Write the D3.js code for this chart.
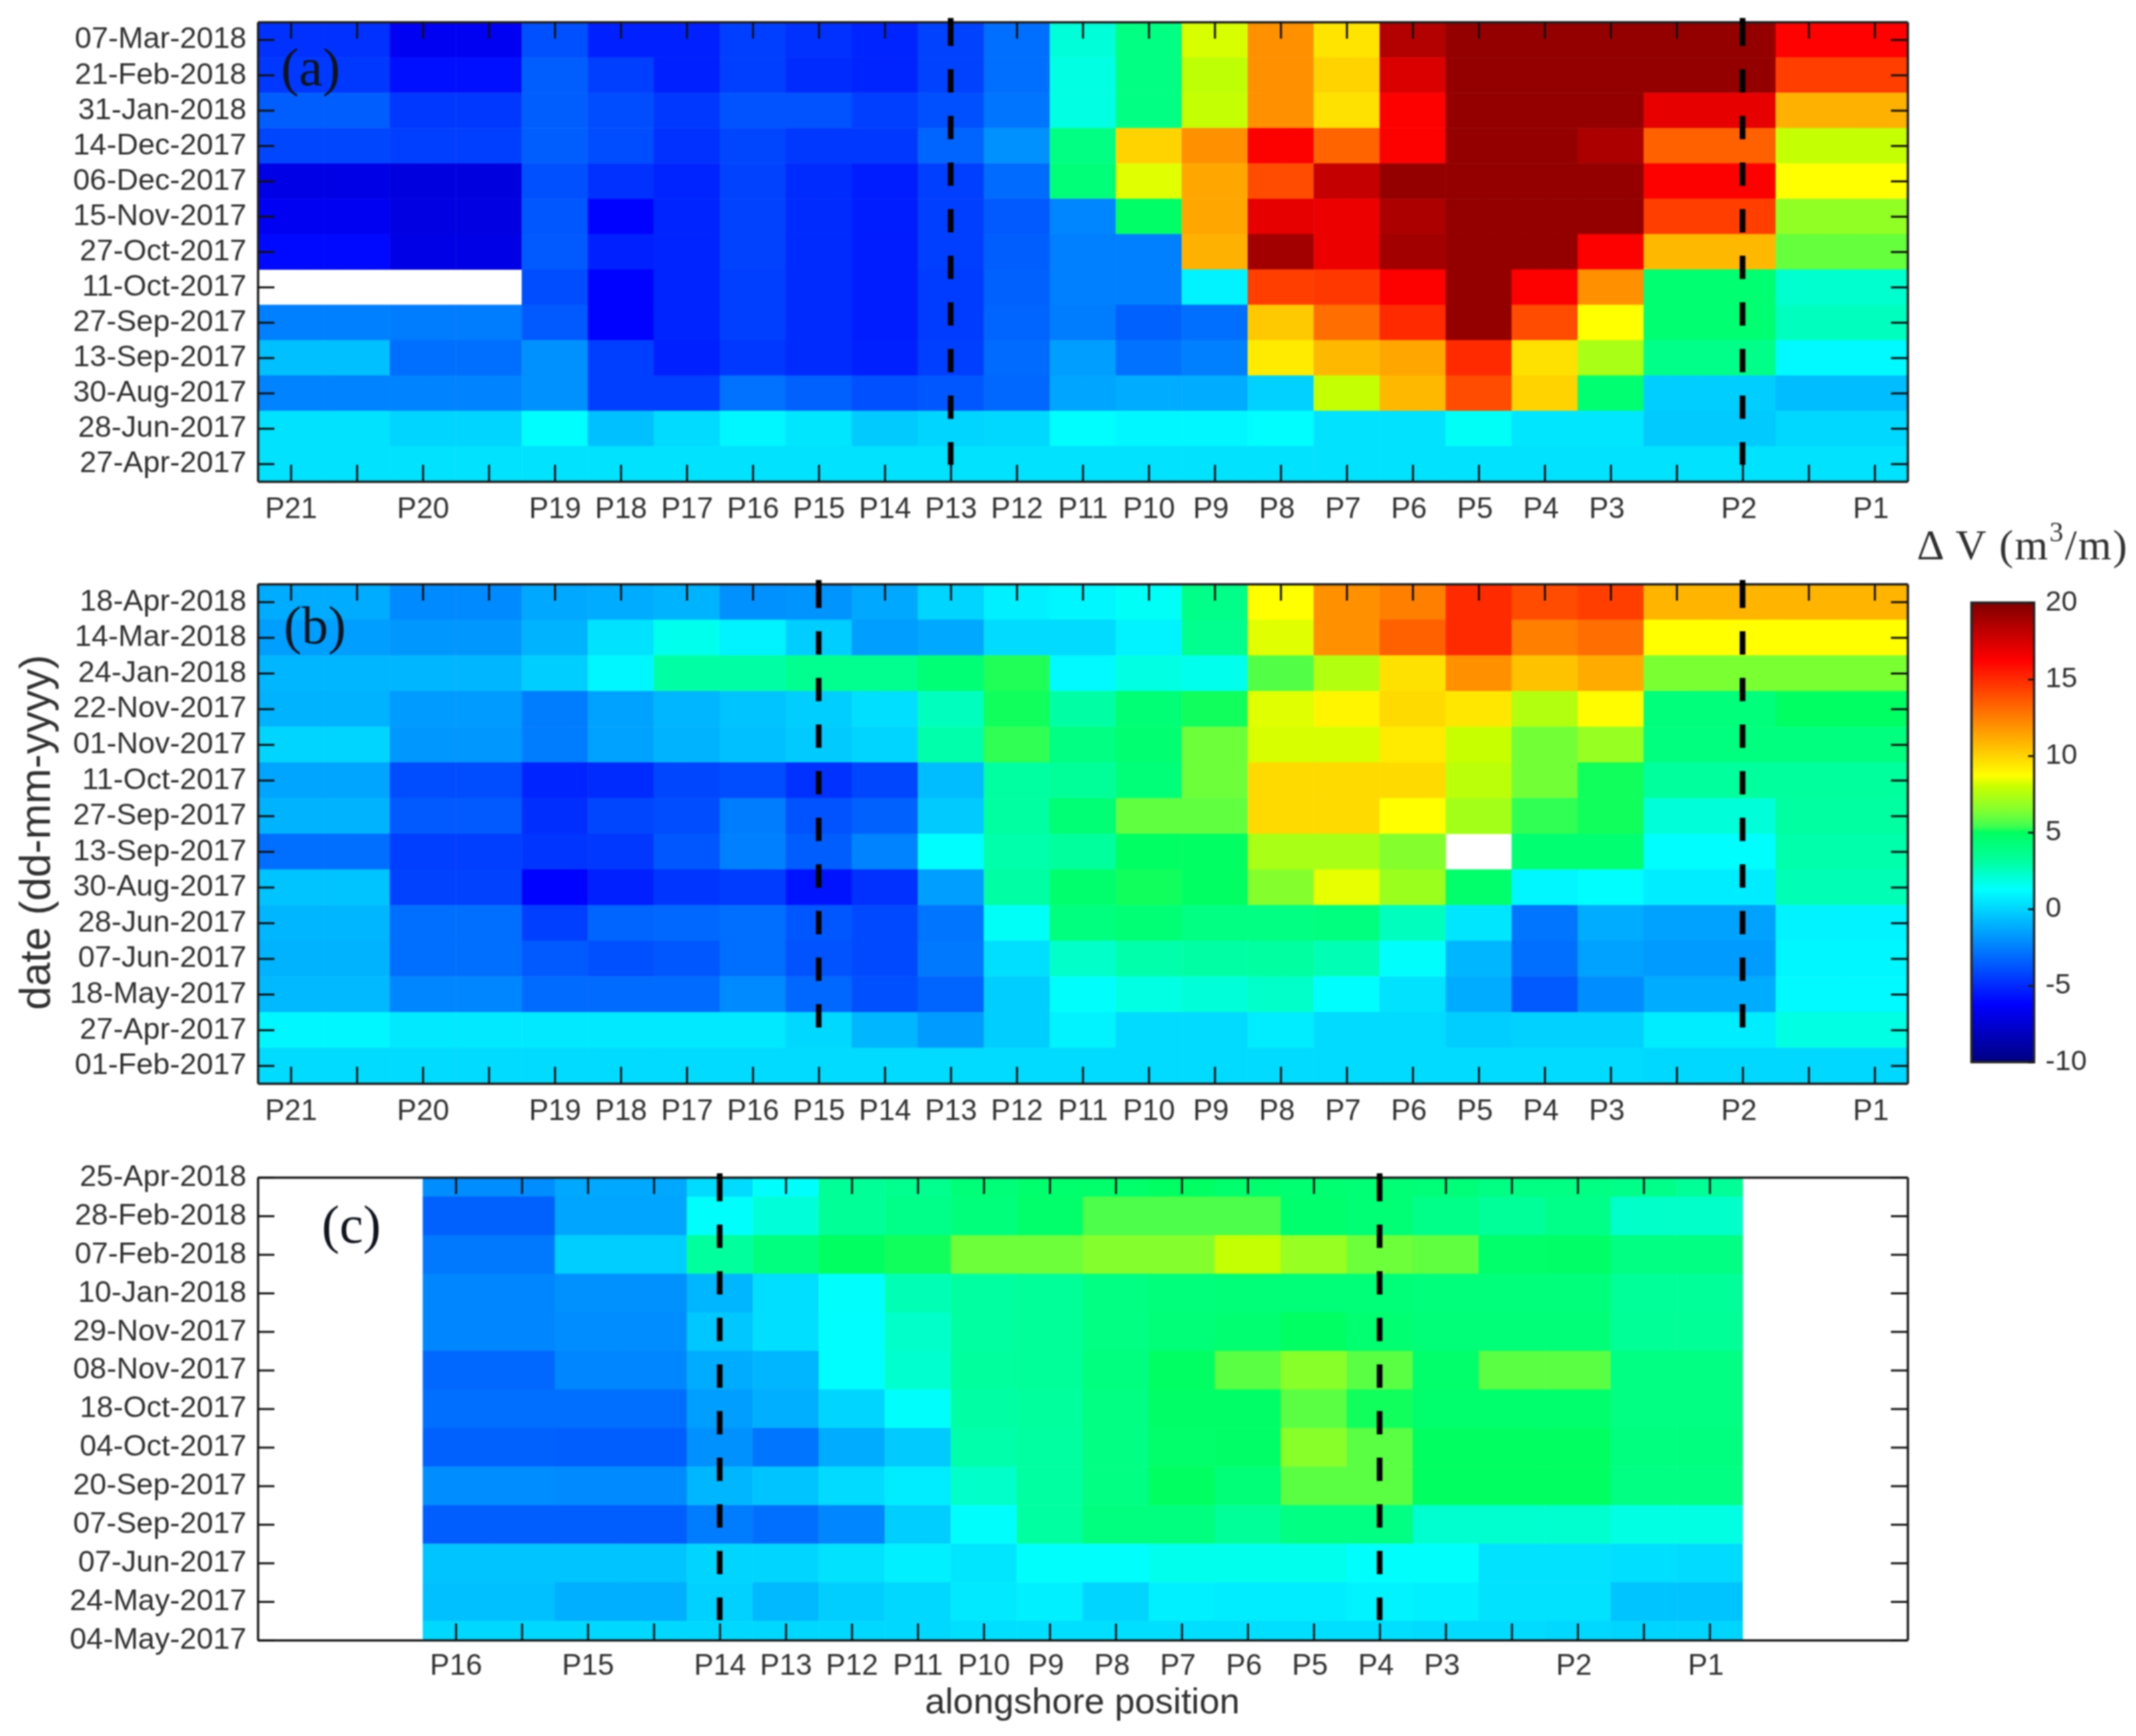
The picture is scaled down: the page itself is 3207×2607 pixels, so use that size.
<!DOCTYPE html>
<html lang="en">
  <head>
  <meta charset="utf-8" />
  <title>Alongshore volume change</title>
  <style>
    html, body { margin:0; padding:0; background:#fff; }
    svg { display:block; filter:blur(1px); }
    text { font-family:"Liberation Sans", Arial, sans-serif; fill:#303030; }
  </style>
  </head>
  <body>
    <div id="chart"></div>
    <script src="https://cdn.jsdelivr.net/npm/d3@7"></script>
    <script type="text/javascript">
      "use strict";

      let width = 3207
      let height = 2607

      // profile names, "" = tick without a label
      let profilesAB = ["P21","","P20","","P19","P18","P17","P16","P15","P14","P13","P12","P11","P10","P9","P8","P7","P6","P5","P4","P3","","P2","","P1"]
      let profilesC = ["P16","","P15","","P14","P13","P12","P11","P10","P9","P8","P7","P6","P5","P4","P3","","P2","","P1"]

      let datesA = ["07-Mar-2018","21-Feb-2018","31-Jan-2018","14-Dec-2017","06-Dec-2017","15-Nov-2017","27-Oct-2017","11-Oct-2017","27-Sep-2017","13-Sep-2017","30-Aug-2017","28-Jun-2017","27-Apr-2017"]
      let datesB = ["18-Apr-2018","14-Mar-2018","24-Jan-2018","22-Nov-2017","01-Nov-2017","11-Oct-2017","27-Sep-2017","13-Sep-2017","30-Aug-2017","28-Jun-2017","07-Jun-2017","18-May-2017","27-Apr-2017","01-Feb-2017"]
      let datesC = ["25-Apr-2018","28-Feb-2018","07-Feb-2018","10-Jan-2018","29-Nov-2017","08-Nov-2017","18-Oct-2017","04-Oct-2017","20-Sep-2017","07-Sep-2017","07-Jun-2017","24-May-2017","04-May-2017"]

      // volume change (m3/m), one row per date, null = no survey
      let valuesA = [
        [-4.8,-4.8,-6.6,-6.6,-3.9,-5.3,-5.3,-4.4,-4.8,-5.2,-4.3,-3.0,2.0,4.0,8.2,12,9.5,18.5,19.4,19.4,19.4,19.4,19.4,16.2,16.2],
        [-4.6,-4.6,-5.8,-5.8,-3.5,-4.4,-5.3,-4.4,-5.0,-5.2,-4.3,-3.0,1.8,4.0,7.8,12,10,17.3,19.4,19.4,19.4,19.4,19.4,14.4,14.4],
        [-3.5,-3.5,-4.6,-4.6,-3.5,-4.0,-4.6,-3.8,-3.8,-4.4,-3.9,-2.8,1.8,4.0,7.9,12,9.6,16.3,19.4,19.4,19.4,17,17,11,11],
        [-4.2,-4.2,-4.4,-4.4,-3.5,-4.0,-4.8,-4.2,-4.6,-4.6,-3.3,-2.0,4.0,10,12,16.3,13.3,16.3,19.4,19.4,18.7,13.4,13.4,7.9,7.9],
        [-7.0,-7.0,-7.2,-7.2,-3.9,-4.8,-5.2,-4.3,-5.0,-5.4,-4.4,-3.1,4.3,8.3,11.3,14,18,19.4,19.4,19.4,19.4,16.3,16.3,8.7,8.7],
        [-6.6,-6.6,-7.1,-7.1,-3.7,-6.2,-5.2,-4.3,-5.0,-5.4,-4.4,-3.6,-2.3,4.8,11.3,17,16.8,18.7,19.4,19.4,19.4,14.4,14.4,6.8,6.8],
        [-6.0,-6.0,-7.0,-7.0,-3.6,-5.3,-5.2,-4.3,-5.0,-5.4,-4.4,-3.5,-2.5,-2.5,11,19,16.8,19,19.4,19.4,16.3,10.8,10.8,6.0,6.0],
        [null,null,null,null,-4.0,-6.2,-5.2,-4.4,-5.0,-5.4,-4.5,-3.4,-2.5,-2.5,0.9,14.4,14.6,16.3,19.4,16.3,12,4.5,4.5,2.2,2.2],
        [-2.5,-2.5,-2.6,-2.6,-3.6,-6.2,-5.2,-4.4,-5.0,-5.4,-4.5,-3.3,-2.6,-3.4,-3.0,10.3,13,15,19.4,14,8.7,4.5,4.5,2.5,2.5],
        [-0.6,-0.6,-3.0,-3.0,-2.0,-4.4,-5.3,-4.6,-5.0,-5.3,-4.4,-3.1,-1.6,-2.9,-2.5,9.3,10.8,11.3,15,9.6,7.3,3.8,3.8,1.1,1.1],
        [-2.4,-2.4,-2.4,-2.4,-2.0,-4.4,-4.4,-2.9,-3.4,-3.9,-3.7,-3.2,-1.4,-1.2,-1.2,-0.1,7.9,10.8,14,10,4.5,-0.2,-0.2,-0.7,-0.7],
        [0.4,0.4,0,0,1.2,-0.6,0.2,1.0,0.5,-0.3,0,0.1,1.2,1.0,1.0,1.2,0.4,0.4,1.4,0.5,0.5,-0.3,-0.3,0.1,0.1],
        [0.4,0.4,0.4,0.4,0.4,0.4,0.4,0.4,0.4,0.4,0.4,0.4,0.4,0.4,0.4,0.4,0.4,0.4,0.4,0.4,0.4,0.4,0.4,0.4,0.4]
      ]
      let valuesB = [
        [-1.2,-1.2,-2.2,-2.2,-1.3,-1.2,-1.0,-2.0,-1.9,-1.3,0,0.8,1.0,1.4,3.8,8.7,12,12.5,15,14,14.4,10.9,10.9,10.9,10.9],
        [-1.6,-1.6,-1.8,-1.8,-1.0,0.4,1.6,0.9,-0.2,-1.6,-1.3,0.2,0.2,0.9,3.6,8.3,12,13.4,15,12.5,13,8.7,8.7,8.7,8.7],
        [-0.9,-0.9,-0.9,-0.9,-0.2,1.0,3.0,3.0,3.6,3.6,4.4,5.2,1.1,1.8,1.6,5.7,7.5,9.6,12,10.5,11.2,6.3,6.3,6.3,6.3],
        [-1.0,-1.0,-1.7,-1.7,-2.6,-1.5,-0.9,-0.5,-0.2,0.3,2.5,5.1,3.0,4.4,5.1,8.3,9,9.8,9.4,7.5,8.8,4.2,4.2,4.9,4.9],
        [0,0,-1.8,-1.8,-2.6,-1.5,-1.0,-0.6,-0.3,0,2.9,5.3,4,4.5,6.1,8.2,8.2,9.3,8,6.2,6.9,4.1,4.1,4.1,4.1],
        [-1.4,-1.4,-4.0,-4.0,-5.2,-5.0,-4.2,-4.0,-4.8,-4.2,-0.7,3.1,3.3,4.3,6.1,9.8,9.8,9.8,7.7,6.2,5.1,3.2,3.2,3.2,3.2],
        [-1.0,-1.0,-3.6,-3.6,-4.9,-4.2,-4.0,-2.6,-3.8,-3.4,-0.3,3.1,4.4,5.9,5.9,9.8,9.8,8.7,7.2,5.3,5.1,2,2,3.1,3.1],
        [-3.0,-3.0,-4.4,-4.4,-4.7,-4.6,-3.7,-2.5,-3.5,-2.4,1.2,2.9,3.2,4.9,4.9,7.3,7.3,6.5,null,4.5,4.5,1.2,1.2,2.9,2.9],
        [-0.5,-0.5,-4.3,-4.3,-6.2,-5.3,-4.7,-4.5,-5.7,-4.8,-1.6,3,4.6,5.1,4.9,6.5,8.4,7,4.7,1,1.2,0.7,0.7,2.7,2.7],
        [-0.9,-0.9,-3.0,-3.0,-4.4,-3.3,-3.2,-3.0,-3.7,-4.1,-2.8,1.4,4.1,4.4,4,4,4.1,2.5,0.5,-2.8,-1.2,-1.5,-1.5,0.9,0.9],
        [-1.0,-1.0,-3.0,-3.0,-3.6,-3.9,-3.7,-3.0,-3.8,-4.1,-2.7,0.3,2.3,2.9,3,3.1,2.7,1.3,-0.9,-3.0,-1.5,-1.7,-1.7,1.0,1.0],
        [-0.8,-0.8,-2.3,-2.3,-3.1,-3.1,-3.1,-2.2,-3.2,-3.9,-3.3,-0.2,1.3,1.8,2,2.3,1.2,0.4,-1.2,-3.6,-2.1,-1.2,-1.2,1.1,1.1],
        [1.0,1.0,0.6,0.6,0.6,0.6,0.6,0.6,0.1,-0.9,-1.7,-0.2,0.9,0.2,0.2,0.7,0.2,0.2,-0.2,-0.1,-0.1,0.7,0.7,1.8,1.8],
        [0.2,0.2,0.2,0.2,0.2,0.2,0.2,0.2,0.2,0.2,0.2,0.2,0.2,0.2,0.2,0.2,0.2,0.2,0.2,0.2,0.2,0.1,0.1,0.1,0.1]
      ]
      let valuesC = [
        [-2.1,-2.1,-1.3,-1.3,0.2,1.3,3.4,3.6,4.3,4.6,4.7,4.9,4.6,4.5,4.4,4.3,4,4,3.8,3.4],
        [-3.4,-3.4,-1.4,-1.4,1.3,2,3.4,3.8,4.2,4.7,5.6,5.6,5.6,4.6,4.4,3.8,3.3,3.8,2.3,2.3],
        [-2.7,-2.7,-0.2,-0.2,3.2,4.1,5,5.1,6.1,6.1,6.5,6.5,7.9,6.9,6.1,5.9,4.7,4.8,4,4],
        [-2.3,-2.3,-2.0,-2.0,-0.9,0.3,1.3,2.7,3.1,3.3,4,4.2,4.3,4.3,4.3,4.2,4.2,4.2,3.3,3.3],
        [-2.3,-2.3,-2.1,-2.1,-0.4,0.3,1.2,2.3,3.1,3.3,4,4.3,4.5,4.9,4.5,4.3,4.3,4.3,3.4,3.4],
        [-3.2,-3.2,-2.3,-2.3,-1.2,-0.9,1.2,2.2,3.2,3.3,4.1,4.9,5.8,6.6,5.8,4.7,5.8,5.8,4,4],
        [-3,-3,-3,-3,-1.6,-1.1,0,1.3,3,3.2,4,4.8,4.8,5.8,5.1,4.6,4.6,4.6,4,4],
        [-3.4,-3.4,-3.5,-3.5,-2,-2.8,-1.2,-0.3,2.9,3.1,4,4.7,4.8,6.6,5.8,5,5,5,4.1,4.1],
        [-2.1,-2.1,-2.2,-2.2,-0.9,-0.5,0.2,0.7,2.3,3.1,4,5,4.3,5.8,5.8,5,5,5,4,4],
        [-3.5,-3.5,-3.5,-3.5,-2.6,-3,-2.3,-0.2,1.3,3.1,4.1,4.1,3.3,4,4,2.2,2.2,2.2,1.8,1.8],
        [-0.5,-0.5,-0.5,-0.5,0,0,0.4,0.8,0.5,1.3,1.3,1.6,1.6,1.6,1.3,1.3,0.4,0.4,0.3,0.2],
        [-0.6,-0.6,-1.1,-1.1,-0.1,-0.8,-0.2,0.1,0.6,0.8,0,0.8,0.7,0.7,0.9,0.8,0.4,0.4,-0.5,-0.5],
        [0.1,0.1,0.1,0.1,0.1,0.1,0.1,0.1,0.3,0.3,0.3,0.3,0.3,0.3,0.3,0.2,0.2,0.1,0,0]
      ]

      let colorTicks = [20,15,10,5,0,-5,-10]

      // jet as it looks on the printed colorbar
      let color = d3.scaleLinear()
        .domain([-10,-6.25,1.25,3.1,5,5.4,6.4,8,8.7,16.25,20])
        .range(["#000080","#0000ff","#00ffff","#00ffa0","#00ff60","#40ff50","#80ff30","#c8ff00","#ffff00","#ff0000","#800000"])

      let svg = d3.select("#chart").append("svg")
        .attr("width",width)
        .attr("height",height)

      let x = d3.scaleLinear().domain([-0.5,24.5]).range([387,2864])
      let cellW = x(1)-x(0)

      /**
      */
      function drawPanel(opt){
        let g = svg.append("g").attr("id","panel-"+opt.name)
        let y = d3.scalePoint().domain(opt.dates)
          .range([opt.top,opt.bottom])
          .padding(opt.pad)
        let step = y.step()

        opt.values.forEach((row,r)=>{
          let y0 = Math.max(opt.top,y(opt.dates[r])-step/2)
          let y1 = Math.min(opt.bottom,y(opt.dates[r])+step/2+0.5)
          g.append("g").selectAll("rect")
            .data(row.map((v,i)=>({v,i})).filter(d=>d.v!==null))
            .join("rect")
              .attr("x",d=>x(d.i+opt.shift-0.5))
              .attr("width",cellW+0.5)
              .attr("y",y0)
              .attr("height",y1-y0)
              .attr("fill",d=>color(d.v))
        })

        let tickVals = opt.profiles.map((p,i)=>i+opt.shift)
        let axisStyle = a => {
          a.selectAll("path.domain").attr("stroke","#1c1c1c").attr("stroke-width",3.5)
          a.selectAll(".tick line").attr("stroke","#111").attr("stroke-width",3)
        }

        g.append("g")
          .attr("transform",`translate(0,${opt.bottom})`)
          .call(d3.axisBottom(x).tickValues(tickVals).tickSizeInner(-25).tickSizeOuter(0).tickPadding(opt.labelPad)
            .tickFormat((d,i)=>opt.profiles[i]))
          .call(axisStyle)
          .call(a=>a.selectAll("text")
            .style("font-size","44px")
            .attr("dx",(d,i)=>opt.profiles[i].length==2?-6:0))

        g.append("g")
          .attr("transform",`translate(0,${opt.top})`)
          .call(d3.axisTop(x).tickValues(tickVals).tickSizeInner(-25).tickSizeOuter(0).tickFormat(""))
          .call(axisStyle)

        g.append("g")
          .attr("transform",`translate(${x.range()[0]},0)`)
          .call(d3.axisLeft(y).tickSizeInner(-25).tickSizeOuter(0).tickPadding(17))
          .call(axisStyle)
          .call(a=>a.selectAll("text").style("font-size","45px").attr("y",-2))

        g.append("g")
          .attr("transform",`translate(${x.range()[1]},0)`)
          .call(d3.axisRight(y).tickSizeInner(-25).tickSizeOuter(0).tickFormat(""))
          .call(axisStyle)

        // the two dashed lines
        opt.dashes.forEach(p=>{
          let dashes = "42 " + "35 ".repeat(31)
          g.append("line")
            .attr("x1",x(p+opt.shift)).attr("x2",x(p+opt.shift))
            .attr("y1",opt.top-6).attr("y2",opt.dashEnd)
            .attr("stroke","#000")
            .attr("stroke-width",8.5)
            .attr("stroke-dasharray",dashes)
        })

        g.append("text")
          .attr("x",opt.tagX).attr("y",opt.tagY)
          .style("font-family","'Liberation Serif', serif")
          .style("font-size","80px")
          .style("fill","#10141c")
          .text(opt.tag)
      }

      drawPanel({name:"a",tag:"(a)",tagX:422,tagY:128,top:33,bottom:723,dates:datesA,values:valuesA,profiles:profilesAB,shift:0,pad:0.5,dashes:[10,22],dashEnd:698,labelPad:24})
      drawPanel({name:"b",tag:"(b)",tagX:426,tagY:966,top:877,bottom:1627,dates:datesB,values:valuesB,profiles:profilesAB,shift:0,pad:0.5,dashes:[8,22],dashEnd:1544,labelPad:24})
      drawPanel({name:"c",tag:"(c)",tagX:483,tagY:1866,top:1768,bottom:2463,dates:datesC,values:valuesC,profiles:profilesC,shift:2.5,pad:0,dashes:[4,14],dashEnd:2433,labelPad:21})

      // axis titles
      svg.append("text")
        .attr("transform","translate(75,1250) rotate(-90)")
        .attr("text-anchor","middle")
        .style("font-size","64px")
        .text("date (dd-mm-yyyy)")

      svg.append("text")
        .attr("x",1625).attr("y",2573)
        .attr("text-anchor","middle")
        .style("font-size","54.5px")
        .text("alongshore position")

      // colorbar
      let cb = svg.append("g").attr("id","colorbar")
      let cbY = d3.scaleLinear().domain([-10,20]).range([1595,905])
      let grad = svg.append("defs").append("linearGradient")
        .attr("id","jet").attr("x1",0).attr("x2",0).attr("y1",1).attr("y2",0)
      grad.selectAll("stop").data(color.domain()).join("stop")
        .attr("offset",d=>(d+10)/30)
        .attr("stop-color",d=>color(d))
      cb.append("rect")
        .attr("x",2960).attr("width",94)
        .attr("y",cbY(20)).attr("height",cbY(-10)-cbY(20))
        .attr("fill","url(#jet)")
        .attr("stroke","#222").attr("stroke-width",3.5)
      cb.append("g")
        .attr("transform","translate(3054,0)")
        .call(d3.axisRight(cbY).tickValues(colorTicks).tickSizeInner(-9).tickSizeOuter(0).tickPadding(17).tickFormat(d=>String(d)))
        .call(a=>a.select("path.domain").remove())
        .call(a=>a.selectAll(".tick line").attr("stroke","#1c1c1c").attr("stroke-width",3))
        .call(a=>a.selectAll("text").style("font-size","43px").attr("y",-2.5))

      let title = svg.append("text")
        .attr("x",2878).attr("y",840)
        .style("font-family","'Liberation Serif', serif")
        .style("font-size","64px")
        .style("letter-spacing","2.2px")
      title.append("tspan").text("\u0394 V (m")
      title.append("tspan").attr("dy",-27).style("font-size","42px").text("3")
      title.append("tspan").attr("dy",27).text("/m)")
    </script>
  </body>
</html>
